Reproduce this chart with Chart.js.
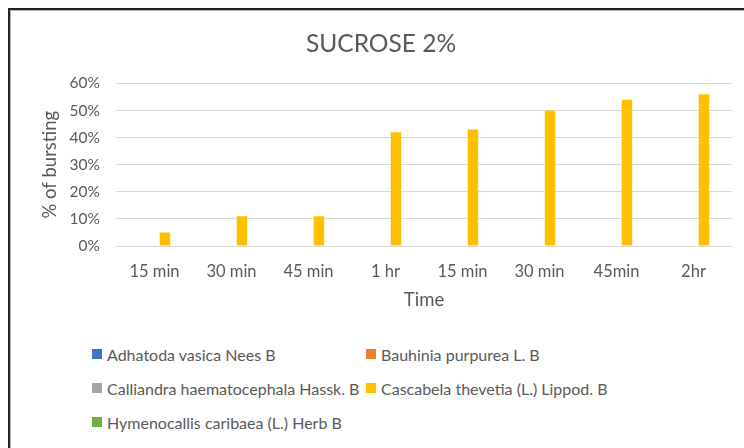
<!DOCTYPE html>
<html lang="en">
<head>
    <meta charset="UTF-8">
    <title>Sucrose 2%</title>
    <style>
        body {
            margin: 0;
            width: 744px;
            height: 448px;
            overflow: hidden;
            background: #fff;
            font-family: Lato, "Open Sans", sans-serif;
        }
        .frame {
            position: absolute;
            left: 8px;
            top: 8px;
            right: -4px;
            bottom: -4px;
            border-top: 2px solid #222;
            border-left: 2px solid #222;
            box-shadow: inset 1px 1px 0 #b8b8b8;
        }
        /* canvas starts a bit right so the title centres like Excel's */
        .chart-box {
            position: absolute;
            left: 30px;
            top: 0;
            width: 714px;
            height: 320px;
        }
        #legend {
            position: absolute;
            left: 92px;
            top: 344px;
            display: grid;
            grid-template-columns: 274px 300px;
            row-gap: 14px;
            color: #595959;
            font-size: 16px;
        }
        .legend-item {
            display: flex;
            align-items: center;
            height: 20px;
            white-space: nowrap;
        }
        .legend-box {
            width: 10px;
            height: 10px;
            margin-right: 5px;
        }
    </style>
</head>
<body>

<div class="frame"></div>
<div class="chart-box">
    <canvas id="sucroseChart" width="714" height="320"></canvas>
</div>
<div id="legend"></div>

<script src="https://cdn.jsdelivr.net/npm/chart.js"></script>
<script>
    const timeLabels = ['15 min', '30 min', '45 min', '1 hr', '15 min', '30 min', '45min', '2hr'];
    const seriesNames = [
        'Adhatoda vasica Nees B',
        'Bauhinia purpurea L. B',
        'Calliandra haematocephala Hassk. B',
        'Cascabela thevetia (L.) Lippod. B',
        'Hymenocallis caribaea (L.) Herb B'
    ];
    const seriesColors = ['#4472C4', '#ED7D31', '#A5A5A5', '#FFC000', '#70AD47'];

    // % of bursting per time point
    const adhatoda = [0, 0, 0, 0, 0, 0, 0, 0];
    const bauhinia = [0, 0, 0, 0, 0, 0, 0, 0];
    const calliandra = [0, 0, 0, 0, 0, 0, 0, 0];
    const cascabela = [5, 11, 11, 42, 43, 50, 54, 56];
    const hymenocallis = [0, 0, 0, 0, 0, 0, 0, 0];

    const yTicks = [0, 10, 20, 30, 40, 50, 60];

    const seriesValues = [adhatoda, bauhinia, calliandra, cascabela, hymenocallis];
    const textColor = '#595959';
    const gridColor = '#d9d9d9';
    const fontFamily = 'Lato, "Open Sans", sans-serif';

    const datasets = seriesNames.map((name, i) => ({
        label: name,
        data: seriesValues[i],
        backgroundColor: seriesColors[i],
        borderWidth: 0,
        categoryPercentage: 0.68,
        barPercentage: 1
    }));

    const ctx = document.getElementById('sucroseChart').getContext('2d');
    new Chart(ctx, {
        type: 'bar',
        data: {
            labels: timeLabels,
            datasets: datasets
        },
        options: {
            responsive: false,
            animation: false,
            layout: {
                padding: { left: 0, right: 12, top: 0, bottom: 0 }
            },
            plugins: {
                legend: { display: false },
                tooltip: { enabled: false },
                title: {
                    display: true,
                    text: 'SUCROSE 2%',
                    color: textColor,
                    font: { family: fontFamily, size: 24.5, weight: 'normal' },
                    padding: { top: 29, bottom: 25 }
                }
            },
            scales: {
                x: {
                    grid: { display: false },
                    border: { display: false },
                    ticks: {
                        color: textColor,
                        font: { family: fontFamily, size: 16.5 },
                        padding: 8,
                        maxRotation: 0,
                        autoSkip: false
                    },
                    title: {
                        display: true,
                        text: 'Time',
                        color: textColor,
                        font: { family: fontFamily, size: 18.5 },
                        padding: { top: 0, bottom: 9 }
                    },
                    afterFit: scale => { scale.height = 74; }
                },
                y: {
                    min: 0,
                    max: 60,
                    afterBuildTicks: scale => {
                        scale.ticks = yTicks.map(v => ({ value: v }));
                    },
                    grid: {
                        color: gridColor,
                        lineWidth: 1,
                        drawTicks: false
                    },
                    border: { display: false },
                    ticks: {
                        color: textColor,
                        font: { family: fontFamily, size: 15.5 },
                        padding: 16,
                        callback: v => v + '%'
                    },
                    title: {
                        display: true,
                        text: '% of bursting',
                        color: textColor,
                        font: { family: fontFamily, size: 18.5 },
                        padding: { top: 9, bottom: 0 }
                    },
                    afterFit: scale => { scale.width = 86; }
                }
            }
        }
    });

    // two-column legend like the Excel original
    const legendDiv = document.getElementById('legend');
    seriesNames.forEach((name, i) => {
        legendDiv.innerHTML += `
            <div class="legend-item">
                <span class="legend-box" style="background:${seriesColors[i]}"></span>
                <span>${name}</span>
            </div>
        `;
    });
</script>

</body>
</html>
